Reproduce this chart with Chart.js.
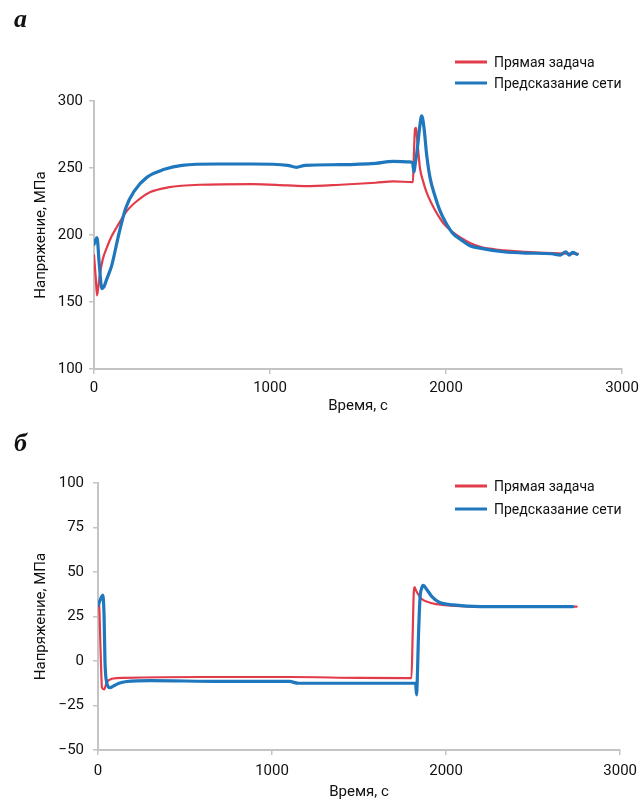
<!DOCTYPE html>
<html lang="ru">
<head>
<meta charset="utf-8">
<title>Напряжение</title>
<script src="https://cdn.jsdelivr.net/npm/chart.js@4.4.1/dist/chart.umd.min.js"></script>
<style>
  body { margin: 0; background: #fff; }
  #wrap { position: relative; width: 644px; height: 803px; overflow: hidden; }
  canvas { position: absolute; left: 0; }
  #chartA { top: 0; }
  #chartB { top: 420px; }
</style>
</head>
<body>
<div id="wrap">
  <canvas id="chartA" width="644" height="420"></canvas>
  <canvas id="chartB" width="644" height="383"></canvas>
</div>
<script>
// labels
const seriesNames = ['Прямая задача', 'Предсказание сети'];
const xTitle = 'Время, с';
const yTitle = 'Напряжение, МПа';

// panel a: time (s) and stress (MPa)
const aRedTime = [0, 10, 17, 25, 34, 50, 74, 100, 130, 187, 250, 320, 420, 600, 900, 1100, 1200, 1400, 1600, 1700, 1812, 1818, 1824, 1830, 1836, 1852, 1870, 1892, 1920, 1949, 1990, 2040, 2090, 2136, 2200, 2300, 2450, 2600, 2750];
const aRedVal = [185, 168, 155, 162, 171, 182, 191, 199, 206, 218, 226, 232, 235.5, 237.5, 238, 237, 236.5, 237.5, 239, 240, 239.5, 262, 279, 280, 272, 250, 240, 231, 223, 216, 208, 202, 197.5, 194, 191, 189, 187.5, 186.5, 186];
const aBlueTime = [0, 8, 17, 30, 45, 55, 75, 100, 140, 180, 230, 300, 400, 500, 700, 900, 1100, 1150, 1200, 1400, 1600, 1700, 1790, 1810, 1818, 1825, 1835, 1850, 1862, 1875, 1890, 1909, 1935, 1966, 2000, 2040, 2090, 2136, 2200, 2324, 2450, 2600, 2650, 2680, 2700, 2720, 2744];
const aBlueVal = [193, 196, 198, 178, 160, 161, 168, 177, 200, 220, 233, 243, 249, 252, 253, 253, 252, 250.5, 252, 252.5, 253.5, 255, 254.5, 254, 247, 253, 262, 280, 289, 280, 260, 243, 230, 218, 209, 201, 196, 192, 190, 187.5, 186.5, 186, 185, 187.5, 185, 187, 185.5];

// panel б
const bRedTime = [0, 6, 15, 23, 35, 50, 80, 150, 600, 1100, 1500, 1795, 1801, 1808, 1814, 1818, 1830, 1858, 1900, 1943, 2050, 2400, 2750];
const bRedVal = [33, 32, 5, -15, -16, -12, -10, -9.5, -9, -9, -9.5, -9.6, -9.6, 15, 38, 41.5, 39, 35, 33, 32, 31, 30.5, 30.5];
const bBlueTime = [0, 6, 28, 35, 40, 50, 68, 90, 120, 165, 300, 700, 1100, 1150, 1400, 1700, 1825, 1830, 1834, 1840, 1850, 1860, 1869, 1890, 1920, 1960, 2040, 2200, 2727];
const bBlueVal = [31, 32.6, 37, 25, 0, -12, -15, -14, -12.5, -11.5, -11, -11.5, -11.5, -12.5, -12.5, -12.5, -12.5, -19, -12, 10, 35, 41, 42.5, 40, 36, 33, 31.5, 30.5, 30.5];

const FONT = 'Roboto, "Liberation Sans", sans-serif';
const RED = '#e23b4a';
const BLUE = '#1f77bd';
const AXIS = '#c4c4c4';

function points(xs, ys) {
    return xs.map((x, i) => ({ x: x, y: ys[i] }));
}

// panel letter + legend drawn above the plot
const panelDecor = {
    id: 'panelDecor',
    afterDraw(chart, args, opts) {
        const ctx = chart.ctx;
        ctx.save();
        ctx.fillStyle = '#111';
        ctx.textBaseline = 'middle';
        ctx.font = 'bold italic 26px "Liberation Serif", "DejaVu Serif", serif';
        ctx.fillText(opts.letter, opts.letterX, opts.letterY);
        ctx.font = '14px ' + FONT;
        chart.data.datasets.forEach((ds, i) => {
            const y = opts.legendY + i * opts.legendGap;
            ctx.strokeStyle = ds.borderColor;
            ctx.lineWidth = 3;
            ctx.beginPath();
            ctx.moveTo(opts.legendX, y);
            ctx.lineTo(opts.legendX + 32, y);
            ctx.stroke();
            ctx.fillText(ds.label, opts.legendX + 39, y + 1);
        });
        ctx.restore();
    }
};

function makeChart(id, red, blue, yRange, geom) {
    const font = { family: FONT, size: 15 };
    return new Chart(document.getElementById(id), {
        type: 'line',
        data: {
            datasets: [{
                label: seriesNames[0],
                data: red,
                borderColor: RED,
                borderWidth: 2.2,
                order: 1
            }, {
                label: seriesNames[1],
                data: blue,
                borderColor: BLUE,
                borderWidth: 3.2,
                order: 0
            }]
        },
        options: {
            responsive: false,
            animation: false,
            elements: {
                point: { radius: 0 },
                line: { cubicInterpolationMode: 'monotone', borderCapStyle: 'round', borderJoinStyle: 'round' }
            },
            layout: { padding: { top: geom.top, right: geom.right, left: 0, bottom: 0 } },
            plugins: {
                legend: { display: false },
                tooltip: { enabled: false },
                panelDecor: geom.decor
            },
            scales: {
                x: {
                    type: 'linear',
                    min: 0,
                    max: 3000,
                    ticks: { stepSize: 1000, color: '#111', font: font, padding: geom.xTickPad, maxRotation: 0, callback: v => String(v) },
                    grid: { drawOnChartArea: false, tickLength: 5, color: AXIS, lineWidth: 1.5 },
                    border: { color: AXIS, width: 2 },
                    title: { display: true, text: xTitle, color: '#111', font: font, padding: { top: 0, bottom: geom.xTitlePad } },
                    afterFit: s => { s.height = geom.xHeight; }
                },
                y: {
                    min: yRange[0],
                    max: yRange[1],
                    ticks: {
                        stepSize: yRange[2], color: '#111', font: font, padding: geom.yTickPad,
                        callback: v => String(v).replace('-', '\u2212')
                    },
                    grid: { drawOnChartArea: false, tickLength: 5, color: AXIS, lineWidth: 1.5 },
                    border: { color: AXIS, width: 2 },
                    title: { display: true, text: yTitle, color: '#111', font: font, padding: { top: 32, bottom: 0 } },
                    afterFit: s => { s.width = geom.yWidth; }
                }
            }
        },
        plugins: [panelDecor]
    });
}

makeChart('chartA', points(aRedTime, aRedVal), points(aBlueTime, aBlueVal), [100, 300, 50], {
    top: 101, right: 22, yWidth: 94, xHeight: 51, xTickPad: 5, xTitlePad: 5, yTickPad: 6,
    decor: { letter: 'а', letterX: 14, letterY: 20, legendX: 455, legendY: 62, legendGap: 21 }
});

makeChart('chartB', points(bRedTime, bRedVal), points(bBlueTime, bBlueVal), [-50, 100, 25], {
    top: 63, right: 18, yWidth: 98, xHeight: 53, xTickPad: 7, xTitlePad: 2, yTickPad: 9,
    decor: { letter: 'б', letterX: 14, letterY: 24, legendX: 455, legendY: 66, legendGap: 23 }
});
</script>
</body>
</html>
